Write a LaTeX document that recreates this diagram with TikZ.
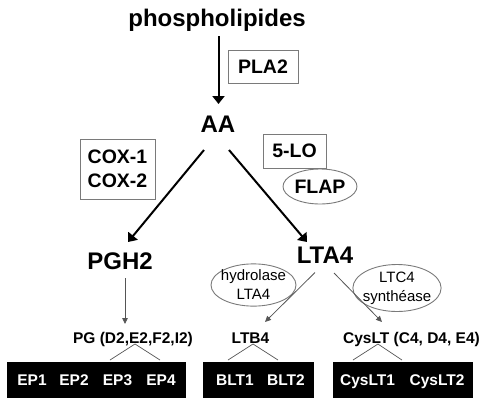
\documentclass[tikz,border=0pt]{standalone}
\usepackage{fontspec}
\setmainfont{Liberation Sans}
\usetikzlibrary{arrows.meta,shapes.geometric}
\definecolor{edgegray}{HTML}{7A7A7A}
\definecolor{thingray}{HTML}{555555}
\begin{document}
\begin{tikzpicture}[x=1pt,y=-1pt,
  bigtxt/.style={font=\bfseries\fontsize{24}{28}\selectfont, inner sep=0pt, anchor=base},
  midtxt/.style={font=\bfseries\fontsize{15.5}{19}\selectfont, inner sep=0pt, anchor=base},
  whitetxt/.style={font=\bfseries\fontsize{15.5}{19}\selectfont, inner sep=0pt, anchor=base, text=white},
  enzbox/.style={draw=edgegray, line width=0.9pt, rectangle, inner sep=0pt,
                 font=\bfseries\fontsize{19.5}{24}\selectfont, align=center},
  enzell/.style={draw=edgegray, line width=0.9pt, ellipse, inner xsep=-3pt, inner ysep=0pt,
                 font=\fontsize{15}{19}\selectfont, align=center},
  blackbox/.style={fill=black, draw=black, rectangle, inner sep=0pt},
  bigarrow/.style={line width=2pt, -{Triangle[length=8pt,width=12pt]}},
  thinarrow/.style={draw=thingray, line width=0.8pt, -{Triangle[length=6pt,width=5.5pt]}},
  treeline/.style={draw=thingray, line width=0.7pt},
]
\useasboundingbox (0,0) rectangle (483,408);

% main metabolites
\node[bigtxt] (phos) at (217,26) {phospholipides};
\node[bigtxt] (aa)   at (218,132) {AA};
\node[bigtxt] (pgh2) at (120,269) {PGH2};
\node[bigtxt] (lta4) at (325,263.5) {LTA4};

% enzymes
\node[enzbox, minimum width=70pt, minimum height=33pt] (pla2) at (263,66.5) {PLA2};
\node[enzbox, minimum width=75pt, minimum height=60pt] (cox) at (117.5,169) {COX-1\\COX-2};
\node[enzbox, minimum width=63pt, minimum height=34pt] (lo5) at (294.5,151) {5-LO};
\node[enzell, font=\bfseries\fontsize{19.5}{24}\selectfont, minimum width=74pt, minimum height=35pt] (flap) at (320,186.5) {FLAP};
\node[enzell, minimum width=85pt, minimum height=42pt] (hyd) at (253.5,285) {hydrolase\\LTA4};
\node[enzell, minimum width=88pt, minimum height=47pt] (ltc4s) at (397,288) {LTC4\\synth\'ease};

% products
\node[midtxt] (pg)    at (133,343) {PG (D2,E2,F2,I2)};
\node[midtxt] (ltb4)  at (250.5,343) {LTB4};
\node[midtxt] (cyslt) at (411.5,343) {CysLT (C4, D4, E4)};

% receptor boxes
\node[blackbox, minimum width=178pt, minimum height=35pt] (epbox)  at (96,379.5) {};
\node[blackbox, minimum width=110pt, minimum height=35pt] (bltbox) at (258,379.5) {};
\node[blackbox, minimum width=139pt, minimum height=35pt] (cysbox) at (402.5,379.5) {};

\node[whitetxt] (ep1) at (32,385) {EP1};
\node[whitetxt] (ep2) at (74,385) {EP2};
\node[whitetxt] (ep3) at (117.5,385) {EP3};
\node[whitetxt] (ep4) at (161,385) {EP4};
\node[whitetxt] (blt1) at (235,385) {BLT1};
\node[whitetxt] (blt2) at (286,385) {BLT2};
\node[whitetxt] (cys1) at (367.5,385) {CysLT1};
\node[whitetxt] (cys2) at (437,385) {CysLT2};

% arrow end points
\coordinate (phosS) at (218.5,36);
\coordinate (aaN)   at (218.5,104);
\coordinate (aaL)   at (204,150);
\coordinate (pgh2N) at (128,242);
\coordinate (aaR)   at (229,150);
\coordinate (lta4N) at (307,242);
\coordinate (pgh2S) at (125,278);
\coordinate (pgN)   at (125,324);
\coordinate (lta4L) at (315,272.5);
\coordinate (ltb4N) at (265,322);
\coordinate (lta4R) at (334,273);
\coordinate (cysltN) at (382,322);

\draw[bigarrow] (phosS) -- (aaN);
\draw[bigarrow] (aaL) -- (pgh2N);
\draw[bigarrow] (aaR) -- (lta4N);
\draw[thinarrow] (pgh2S) -- (pgN);
\draw[thinarrow] (lta4L) -- (ltb4N);
\draw[thinarrow] (lta4R) -- (cysltN);

% branching lines to receptors
\coordinate (pgA) at (135,344);
\coordinate (ltbA) at (253,344);
\coordinate (cysA) at (378,344);
\draw[treeline] (110,360) -- (pgA) -- (160,360);
\draw[treeline] (228,360) -- (ltbA) -- (278,360);
\draw[treeline] (353,360) -- (cysA) -- (402,360);
\end{tikzpicture}
\end{document}
